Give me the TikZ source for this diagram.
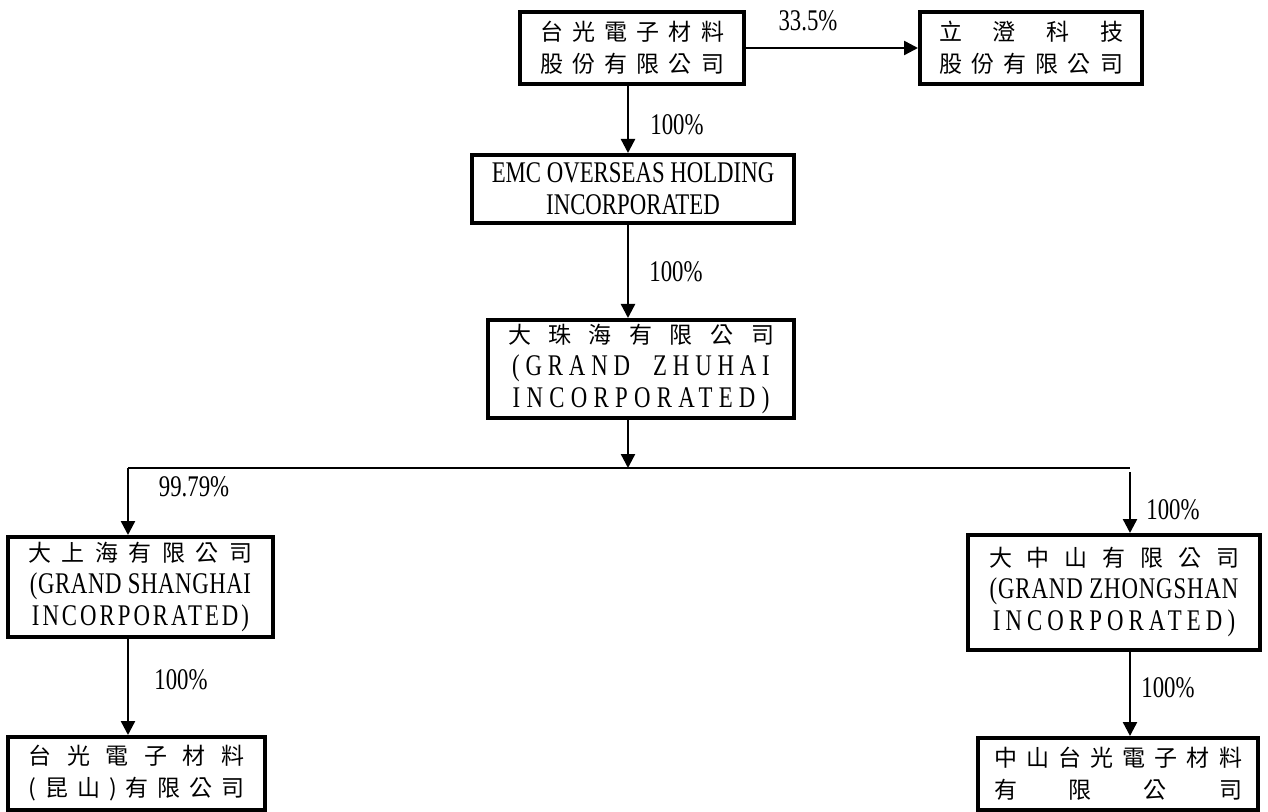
\documentclass[tikz,border=0pt]{standalone}
\usepackage{fontspec}
\setmainfont{Liberation Serif}[FakeStretch=0.76]
\newfontfamily\cjk{Noto Sans CJK TC}
\usetikzlibrary{arrows.meta}

\newcommand{\zh}[2]{\makebox[#1][s]{\cjk\fontsize{11.5}{16}\selectfont #2}}
\newcommand{\ls}[2]{{\addfontfeature{LetterSpace=#1}#2}}

\begin{document}
\begin{tikzpicture}[x=0.5pt, y=-0.5pt,
    box/.style={draw, line width=2pt, align=center, inner sep=0pt, font=\fontsize{15}{16}\selectfont},
    arr/.style={line width=1.2pt, -{Triangle[length=7pt,width=7pt]}},
    pct/.style={font=\fontsize{15}{16}\selectfont}]
        \useasboundingbox (0,0) rectangle (1268,812);

        % Companies
        \node[box, minimum width=112pt, minimum height=36pt] (gk) at (632,48)
            {\zh{92pt}{台 光 電 子 材 料}\\ \zh{92pt}{股 份 有 限 公 司}};
        \node[box, minimum width=111pt, minimum height=36pt] (lc) at (1031,48)
            {\zh{92pt}{立 澄 科 技}\\ \zh{92pt}{股 份 有 限 公 司}};
        \node[box, minimum width=161pt, minimum height=34pt] (emc) at (633,189)
            {EMC OVERSEAS HOLDING\\ INCORPORATED};
        \node[box, minimum width=153pt, minimum height=49pt] (gz) at (641,369)
            {\zh{133pt}{大 珠 海 有 限 公 司}\\ \ls{19.5}{(GRAND\ \ ZHUHAI}\\ \ls{21}{INCORPORATED)}};
        \node[box, minimum width=132.5pt, minimum height=50pt] (gs) at (140.5,587)
            {\zh{112pt}{大 上 海 有 限 公 司}\\ \ls{2}{(GRAND SHANGHAI}\\ \ls{10}{INCORPORATED)}};
        \node[box, minimum width=128.5pt, minimum height=36.5pt] (ks) at (136.5,773.5)
            {\zh{108pt}{台 光 電 子 材 料}\\ \zh{108pt}{( 昆 山 ) 有 限 公 司}};
        \node[box, minimum width=146pt, minimum height=57.5pt] (gzs) at (1114,592.5)
            {\zh{125pt}{大 中 山 有 限 公 司}\\ \ls{3}{(GRAND ZHONGSHAN}\\ \ls{17}{INCORPORATED)}};
        \node[box, minimum width=140pt, minimum height=36pt] (zs) at (1118,774)
            {\zh{124pt}{中 山 台 光 電 子 材 料}\\ \zh{124pt}{有 限 公 司}};

        % Bus line
        \coordinate (bl) at (128,468);
        \coordinate (bm) at (628,468);
        \coordinate (br) at (1130,468);

        % Arrows
        \draw[arr] (gk) -- (lc);
        \draw[arr] (gk.south -| bm) -- (emc.north -| bm);
        \draw[arr] (emc.south -| bm) -- (gz.north -| bm);
        \draw[arr] (gz.south -| bm) -- (bm);
        \draw[line width=1.2pt] (bl) -- (br);
        \draw[arr] (bl) -- (gs.north -| bl);
        \draw[arr] ([yshift=-2pt]br) -- (gzs.north -| br);
        \draw[arr] (gs.south -| bl) -- (ks.north -| bl);
        \draw[arr] (gzs.south -| br) -- (zs.north -| br);

        % Shares
        \node[pct] (p1) at (808,21) {33.5\%};
        \node[pct] (p2) at (677,125) {100\%};
        \node[pct] (p3) at (676,272) {100\%};
        \node[pct] (p4) at (194,487) {99.79\%};
        \node[pct] (p5) at (1173,510) {100\%};
        \node[pct] (p6) at (181,680) {100\%};
        \node[pct] (p7) at (1168,688) {100\%};
    \end{tikzpicture}
\end{document}
